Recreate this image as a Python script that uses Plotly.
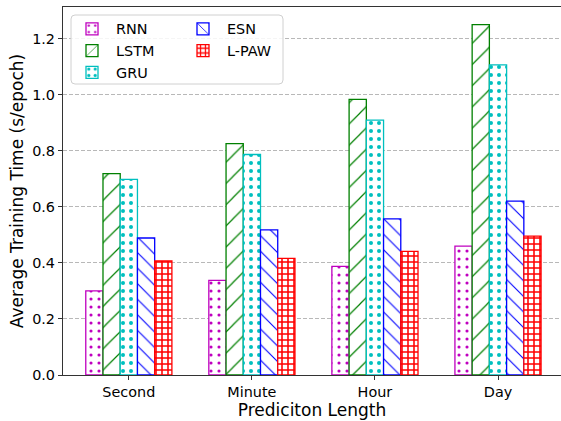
import plotly.graph_objects as go

categories = ["Second", "Minute", "Hour", "Day"]
models = ["RNN", "LSTM", "GRU", "ESN", "L-PAW"]
rnn = [0.30, 0.338, 0.388, 0.46]
lstm = [0.719, 0.826, 0.984, 1.251]
gru = [0.698, 0.787, 0.910, 1.107]
esn = [0.489, 0.518, 0.557, 0.621]
lpaw = [0.407, 0.416, 0.441, 0.496]
series = [rnn, lstm, gru, esn, lpaw]

colors = ["#bf00bf", "#008000", "#00bfbf", "#0000ff", "#ff0000"]
patterns = [
    dict(shape=".", size=8, solidity=0.12),
    dict(shape="/", size=15, solidity=0.08),
    dict(shape=".", size=8, solidity=0.2),
    dict(shape="\\", size=11, solidity=0.1),
    dict(shape="+", size=6, solidity=0.45),
]
legend_ids = ["legend", "legend", "legend", "legend2", "legend2"]

W, H = 561, 421
L, R, T, B = 63, 0, 7, 46
pw, ph = W - L - R, H - T - B

def px(x):
    return (x - L) / pw

def py(y):
    return (H - B - y) / ph

fig = go.Figure()
for name, vals, c, p, lg in zip(models, series, colors, patterns, legend_ids):
    fig.add_trace(go.Bar(
        x=list(range(len(categories))), y=vals, name=name, legend=lg,
        marker=dict(color="white", line=dict(color=c, width=1.3),
                    pattern=dict(fgcolor=c, bgcolor="white", fillmode="replace", **p)),
    ))

fig.update_layout(
    width=W, height=H,
    margin=dict(l=L, r=R, t=T, b=B),
    paper_bgcolor="white", plot_bgcolor="white",
    font=dict(family="DejaVu Sans", color="black", size=14.4),
    barmode="group", bargap=0.3, bargroupgap=0,
    showlegend=True,
    legend=dict(x=px(68), y=py(13), xanchor="left", yanchor="top",
                bgcolor="rgba(0,0,0,0)", borderwidth=0, font=dict(size=14.4),
                tracegroupgap=0, itemwidth=38),
    legend2=dict(x=px(179), y=py(13), xanchor="left", yanchor="top",
                 bgcolor="rgba(0,0,0,0)", borderwidth=0, font=dict(size=14.4),
                 tracegroupgap=0, itemwidth=38),
)

fig.update_xaxes(
    range=[-0.535, 3.512], tickmode="array", tickvals=list(range(len(categories))),
    ticktext=categories, ticks="outside", ticklen=4, tickcolor="#333",
    showline=True, linecolor="#333", linewidth=1.2, mirror=True, showgrid=False,
    title=dict(text="Prediciton Length", font=dict(size=17), standoff=4),
    zeroline=False,
)
fig.update_yaxes(
    range=[0, 1.3136], tickmode="array", tickvals=[0, 0.2, 0.4, 0.6, 0.8, 1.0, 1.2],
    tickformat=".1f", ticks="outside", ticklen=4, tickcolor="#333",
    showline=True, linecolor="#333", linewidth=1.2, mirror=False,
    showgrid=True, gridcolor="#b8b8b8", griddash="4px,2px", gridwidth=0.8,
    zeroline=False,
    title=dict(text="Average Training Time (s/epoch)", font=dict(size=17), standoff=4),
)

# legend frame (rounded rect, matplotlib style)
x0, x1, y0, y1, r = 71, 283, 15, 84, 4
segs = [
    f"M{px(x0+r)},{py(y0)}", f"L{px(x1-r)},{py(y0)}", f"Q{px(x1)},{py(y0)} {px(x1)},{py(y0+r)}",
    f"L{px(x1)},{py(y1-r)}", f"Q{px(x1)},{py(y1)} {px(x1-r)},{py(y1)}",
    f"L{px(x0+r)},{py(y1)}", f"Q{px(x0)},{py(y1)} {px(x0)},{py(y1-r)}",
    f"L{px(x0)},{py(y0+r)}", f"Q{px(x0)},{py(y0)} {px(x0+r)},{py(y0)}", "Z"]
fig.add_shape(type="path", xref="paper", yref="paper", path=" ".join(segs),
              line=dict(color="#d0d0d0", width=1), fillcolor="rgba(255,255,255,0.85)", layer="above")

fig.write_html("out.html")
